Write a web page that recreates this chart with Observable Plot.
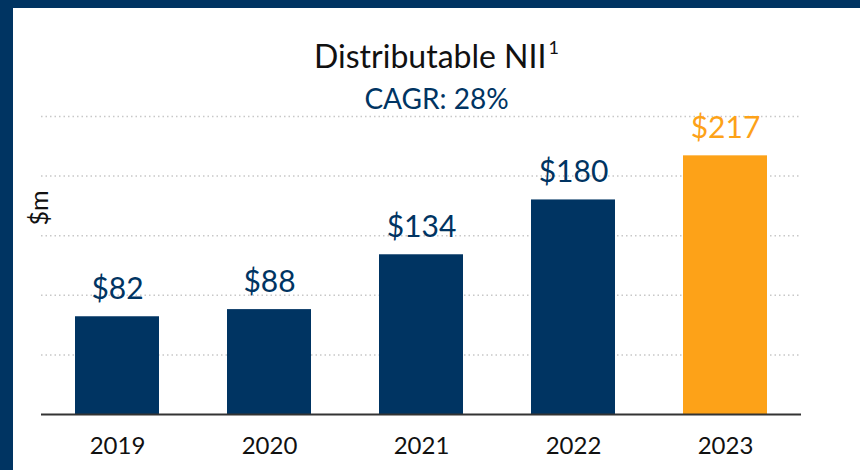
<!DOCTYPE html>
<html>
<head>
<meta charset="utf-8">
<script src="https://cdn.jsdelivr.net/npm/d3@7"></script>
<script src="https://cdn.jsdelivr.net/npm/@observablehq/plot@0.6"></script>
<style>
  html, body { margin: 0; padding: 0; }
  body { width: 860px; height: 470px; background: #003462; position: relative; overflow: hidden; font-family: Lato, "Open Sans", sans-serif; }
  #panel { position: absolute; left: 13px; top: 8px; width: 847px; height: 462px; background: #fff; }
  #title { position: absolute; left: 0; width: 847px; top: 32px; text-align: center; font-size: 32px; line-height: 32px; color: #111; }
  #title sup { font-size: 18px; vertical-align: 0; position: relative; top: -14px; margin-left: 2px; }
  #subtitle { position: absolute; left: 0; width: 847px; top: 76px; text-align: center; font-size: 28px; line-height: 28px; color: #003462; }
  #ylabel { position: absolute; left: 25px; top: 200px; font-size: 25px; line-height: 25px; color: #111; transform: translate(-50%, -50%) rotate(-90deg); transform-origin: center; white-space: nowrap; }
  #chart { position: absolute; left: 0; top: 92px; }
</style>
</head>
<body>
<div id="panel">
  <div id="title">Distributable NII<sup>1</sup></div>
  <div id="subtitle">CAGR: 28%</div>
  <div id="ylabel">$m</div>
  <div id="chart"></div>
</div>
<script>
const years = ["2019", "2020", "2021", "2022", "2023"];
const values = [82, 88, 134, 180, 217];
const valueLabels = ["$82", "$88", "$134", "$180", "$217"];
const gridTicks = [50, 100, 150, 200, 250];
const highlightYear = "2023";

const navy = "#003462";
const orange = "#FDA218";

const data = years.map((y, i) => ({
  year: y,
  value: values[i],
  label: valueLabels[i],
  color: y === highlightYear ? orange : navy
}));

const chart = Plot.plot({
  width: 847,
  height: 370,
  marginLeft: 28,
  marginRight: 59,
  marginTop: 16,
  marginBottom: 56,
  style: { fontFamily: "Lato, 'Open Sans', sans-serif", background: "transparent" },
  x: { domain: years, paddingInner: 0.45, paddingOuter: 0.225, label: null },
  y: { domain: [0, 250], axis: null },
  marks: [
    Plot.ruleY(gridTicks, { stroke: "#c8c8c8", strokeWidth: 1.5, strokeDasharray: "1.5,3" }),
    Plot.barY(data, { x: "year", y: "value", fill: d => d.color }),
    Plot.ruleY([0], { stroke: "#333", strokeWidth: 2 }),
    Plot.text(data, { x: "year", y: "value", text: "label", fill: d => d.color, fontSize: 30, lineAnchor: "bottom", dy: -18 }),
    Plot.axisX({ tickSize: 0, tickPadding: 22, fontSize: 24, color: "#111", label: null })
  ]
});
document.getElementById("chart").appendChild(chart);
</script>
</body>
</html>
